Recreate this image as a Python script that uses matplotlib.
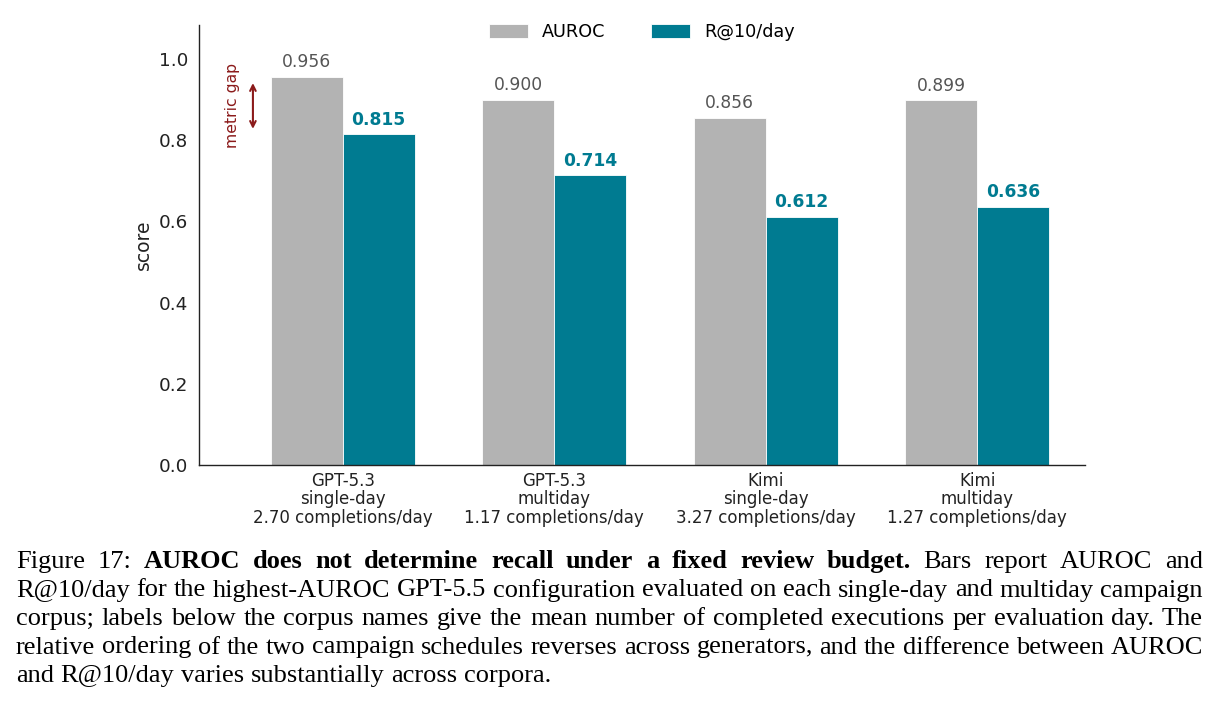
import numpy as np
import matplotlib.pyplot as plt

plt.rcParams["font.family"] = ["DejaVu Sans"]

categories = ["GPT-5.3\nsingle-day\n2.70 completions/day",
              "GPT-5.3\nmultiday\n1.17 completions/day",
              "Kimi\nsingle-day\n3.27 completions/day",
              "Kimi\nmultiday\n1.27 completions/day"]
auroc = [0.956, 0.900, 0.856, 0.899]
recall = [0.815, 0.714, 0.612, 0.636]
yticks = [0.0, 0.2, 0.4, 0.6, 0.8, 1.0]

caption_lines = [
    [("Figure 17:", "normal"),
     ("AUROC does not determine recall under a fixed review budget.", "bold"),
     ("Bars report AUROC and", "normal")],
    [("R@10/day for the highest-AUROC GPT-5.5 configuration evaluated on each single-day and multiday campaign", "normal")],
    [("corpus; labels below the corpus names give the mean number of completed executions per evaluation day. The", "normal")],
    [("relative ordering of the two campaign schedules reverses across generators, and the difference between AUROC", "normal")],
    [("and R@10/day varies substantially across corpora.", "normal")],
]

GRAY = "#b3b3b3"
TEAL = "#007b91"
RED = "#8b1a1a"

W, H = 1219, 712
fig = plt.figure(figsize=(W / 100, H / 100), dpi=100)
ax = fig.add_axes([199 / W, 1 - 465 / H, (1085 - 199) / W, (465 - 25) / H])

x = np.arange(len(categories))
bw = 0.34
b1 = ax.bar(x - bw / 2, auroc, bw, color=GRAY, edgecolor="white", linewidth=0.6, label="AUROC")
b2 = ax.bar(x + bw / 2, recall, bw, color=TEAL, edgecolor="white", linewidth=0.6, label="R@10/day")

for rect, v in zip(b1, auroc):
    ax.annotate(f"{v:.3f}", (rect.get_x() + rect.get_width() / 2, v), xytext=(0, 4),
                textcoords="offset points", ha="center", va="bottom", fontsize=12.3, color="#555555")
for rect, v in zip(b2, recall):
    ax.annotate(f"{v:.3f}", (rect.get_x() + rect.get_width() / 2, v), xytext=(0, 4),
                textcoords="offset points", ha="center", va="bottom", fontsize=12.3,
                color=TEAL, fontweight="bold")

ax.annotate("", xy=(-0.425, 0.828), xytext=(-0.425, 0.941),
            arrowprops=dict(arrowstyle="<->", color=RED, lw=1.5, shrinkA=0, shrinkB=0))
ax.text(-0.52, 0.886, "metric gap", rotation=90, ha="center", va="center", fontsize=11.3, color=RED)

ax.set_xlim(-0.68, 3.51)
ax.set_ylim(0, 1.084)
ax.set_yticks(yticks)
ax.set_yticklabels([f"{t:.1f}" for t in yticks])
ax.set_xticks(x)
ax.set_xticklabels(categories, fontsize=12, color="#222222", linespacing=1.03)
ax.tick_params(axis="y", length=0, pad=8, labelsize=13.2, labelcolor="#222222")
ax.tick_params(axis="x", length=0, pad=5)
ax.set_ylabel("score", fontsize=13.5, color="#222222", labelpad=4)
for s in ["top", "right"]:
    ax.spines[s].set_visible(False)
for s in ["left", "bottom"]:
    ax.spines[s].set_color("#222222")
    ax.spines[s].set_linewidth(1.0)

ax.legend(loc="upper center", ncol=2, frameon=False, fontsize=12.7, handlelength=2.2,
          handleheight=0.8, columnspacing=2.6, borderaxespad=0.0, bbox_to_anchor=(0.5, 1.02))

# caption, justified word by word
fig.canvas.draw()
renderer = fig.canvas.get_renderer()
cap_size = 19
left, right = 16, 1203
baselines = [568, 596.5, 625, 653.5, 682]
for li, (segs, base) in enumerate(zip(caption_lines, baselines)):
    words = []
    for txt, wt in segs:
        for wd in txt.split(" "):
            words.append((wd, wt))
    items = []
    for wd, wt in words:
        t = fig.text(0, 0, wd, fontsize=cap_size, family="Liberation Serif", fontweight=wt,
                     va="baseline", ha="left")
        wpx = t.get_window_extent(renderer).width
        items.append((t, wpx))
    total = sum(w for _, w in items)
    if li < len(caption_lines) - 1:
        gap = (right - left - total) / (len(items) - 1)
    else:
        gap = cap_size * 100 / 72 * 0.25
    cx = left
    for t, wpx in items:
        t.set_position((cx / W, 1 - base / H))
        cx += wpx + gap

fig.savefig("out.png", dpi=100)
